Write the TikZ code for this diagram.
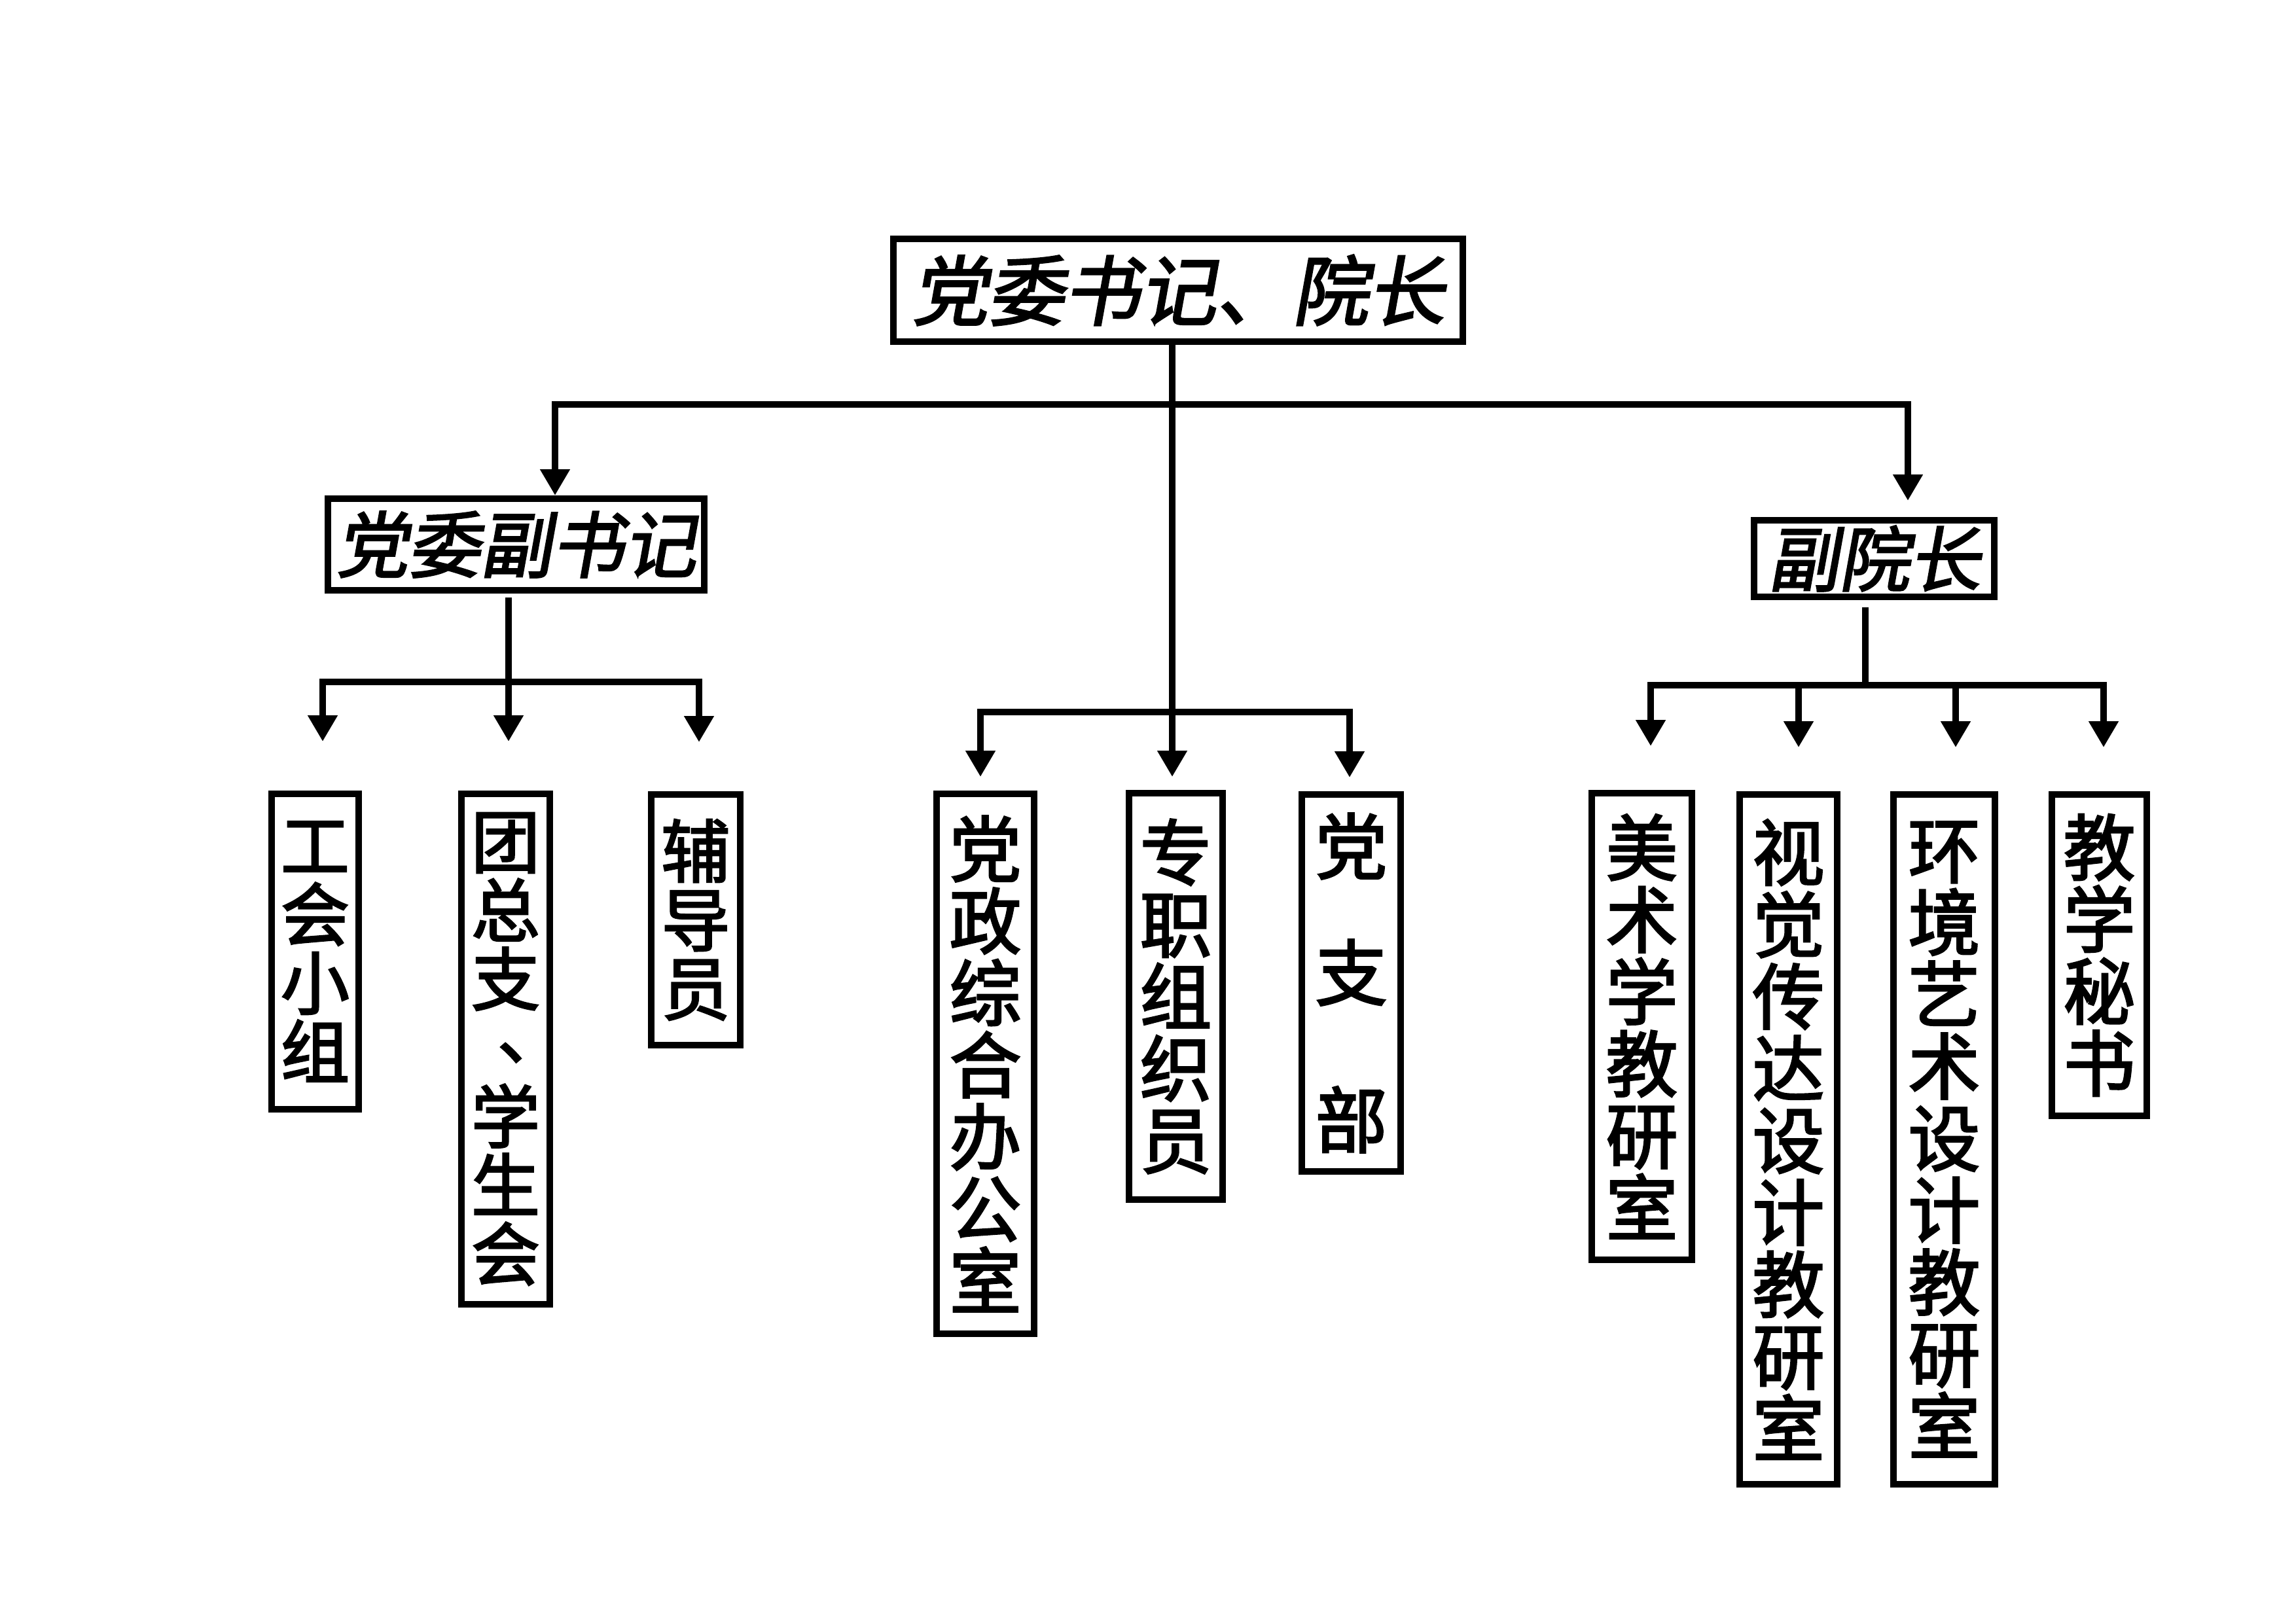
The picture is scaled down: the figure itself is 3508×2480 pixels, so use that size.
\documentclass[tikz,border=0pt]{standalone}
\usepackage{fontspec}
\newfontfamily\cjk{Noto Sans CJK SC}[FakeBold=2.5]
\newfontfamily\cjksl{Noto Sans CJK SC}[FakeSlant=0.18,FakeBold=2.5]
\usetikzlibrary{arrows.meta,calc}
\newdimen\px \px=0.084664mm
\newcommand{\vcomma}{\makebox[1em][l]{\kern0.38em\raisebox{0.22em}{、}}}
\begin{document}
\begin{tikzpicture}[x=0.084664mm, y=-0.084664mm,
  box/.style={draw, line width=9.5\px, inner sep=0pt, outer sep=0pt, align=center,
    font=\cjk\fontsize{26.5}{26.5}\selectfont},
  lbox/.style={box, font=\cjk\fontsize{25.3}{25.3}\selectfont},
  headbox/.style={box, font=\cjksl\fontsize{26.5}{26.5}\selectfont},
  conn/.style={line width=10\px, line cap=rect},
  arr/.style={conn, -{Triangle[width=10.4pt,length=9.6pt]}}]
\fill[white] (0,0) rectangle (3508,2480);
\useasboundingbox (0,0) rectangle (3508,2480);

% head boxes
\node[headbox, font=\cjksl\fontsize{28}{28}\selectfont, minimum width=870\px, minimum height=157\px] (top) at (1800,443.5) {党委书记、院长};
\node[headbox, minimum width=575\px, minimum height=140\px] (fsj) at (788.5,832) {党委副书记};
\node[headbox, font=\cjksl\fontsize{26}{26}\selectfont, minimum width=367\px, minimum height=117\px] (fyz) at (2863.5,853.5) {副院长};

% left group
\node[lbox, minimum width=133\px, minimum height=482\px] (c1) at (481.5,1454) {工\\会\\小\\组};
\node[lbox, minimum width=135\px, minimum height=780\px] (c2) at (772.5,1603) {团\\总\\支\\\vcomma\\学\\生\\会};
\node[lbox, minimum width=136\px, minimum height=383\px] (c3) at (1063,1405.5) {辅\\导\\员};

% middle group
\node[box, minimum width=149\px, minimum height=825\px] (m1) at (1505.5,1625.5) {党\\政\\综\\合\\办\\公\\室};
\node[box, minimum width=143\px, minimum height=621\px] (m2) at (1796.5,1522.5) {专\\职\\组\\织\\员};
\node[box, minimum width=151\px, minimum height=576\px] (m3) at (2064.5,1502) {党\\[20pt]支\\[27.7pt]部};

% right group
\node[box, minimum width=153\px, minimum height=713\px] (r1) at (2508.5,1568.5) {美\\术\\学\\教\\研\\室};
\node[box, minimum width=149\px, minimum height=1054\px] (r2) at (2732.5,1741) {视\\觉\\传\\达\\设\\计\\教\\研\\室};
\node[box, minimum width=155\px, minimum height=1054\px] (r3) at (2970.5,1741) {环\\境\\艺\\术\\设\\计\\教\\研\\室};
\node[box, minimum width=145\px, minimum height=491\px] (r4) at (3207.5,1459.5) {教\\学\\秘\\书};

% top level connectors
\coordinate (cx) at (1791,0);
\coordinate (hL) at (848,618);
\coordinate (hR) at (2915,618);
\draw[conn] (hL) -- (hR);
\draw[arr] (top.south -| cx) -- ($(m2.north -| cx)+(0,-25)$);
\draw[arr] (hL) -- ($(fsj.north -| hL)+(0,-5)$);
\draw[arr] (hR) -- ($(fyz.north -| hR)+(0,-30)$);

% left connectors
\coordinate (lb) at (777,1042);
\coordinate (lbL) at (493,1042);
\coordinate (lbR) at (1068,1042);
\draw[conn] ($(fsj.south -| lb)+(0,16)$) -- (lb);
\draw[conn] (lbL) -- (lbR);
\draw[arr] (lbL) -- ($(c1.north -| lbL)+(0,-80)$);
\draw[arr] (lb) -- ($(c2.north -| lb)+(0,-80)$);
\draw[arr] (lbR) -- ($(c3.north -| lbR)+(0,-80)$);

% middle connectors
\coordinate (mL) at (1498,1088);
\coordinate (mR) at (2062,1088);
\draw[conn] (mL) -- (mR);
\draw[arr] (mL) -- ($(m1.north -| mL)+(0,-26)$);
\draw[arr] (mR) -- ($(m3.north -| mR)+(0,-26)$);

% right connectors
\coordinate (rb) at (2850,1047);
\coordinate (rL) at (2522,1047);
\coordinate (rM1) at (2748,1047);
\coordinate (rM2) at (2988,1047);
\coordinate (rR) at (3214,1047);
\draw[conn] ($(fyz.south -| rb)+(0,21)$) -- (rb);
\draw[conn] (rL) -- (rR);
\draw[arr] (rL) -- ($(r1.north -| rL)+(0,-72)$);
\draw[arr] (rM1) -- ($(r2.north -| rM1)+(0,-72)$);
\draw[arr] (rM2) -- ($(r3.north -| rM2)+(0,-72)$);
\draw[arr] (rR) -- ($(r4.north -| rR)+(0,-72)$);
\end{tikzpicture}
\end{document}
